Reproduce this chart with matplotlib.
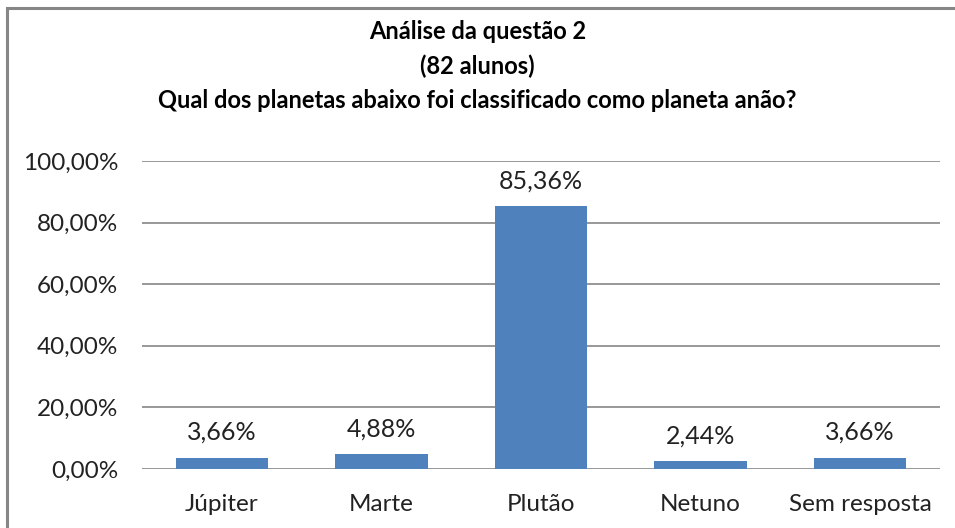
import matplotlib
matplotlib.use('Agg')
import matplotlib.pyplot as plt
from matplotlib.patches import Rectangle
from matplotlib.ticker import FuncFormatter

categories = ['Júpiter', 'Marte', 'Plutão', 'Netuno', 'Sem resposta']
values = [3.66, 4.88, 85.36, 2.44, 3.66]
yticks = [0, 20, 40, 60, 80, 100]
title = 'Análise da questão 2\n(82 alunos)\nQual dos planetas abaixo foi classificado como planeta anão?'

plt.rcParams['font.family'] = ['Lato', 'DejaVu Sans']

W, H = 955, 528
fig = plt.figure(figsize=(W/100, H/100), dpi=100)
ax = fig.add_axes([142/W, 1-469/H, (940-142)/W, (469-161)/H])

x = range(len(categories))
ax.bar(x, values, width=0.58, color='#4F81BD', zorder=3)
for xi, v in zip(x, values):
    ax.annotate(('%.2f%%' % v).replace('.', ','), (xi, v), xytext=(0, 10),
                textcoords='offset points', ha='center', va='bottom',
                fontsize=18, color='#222222')

ax.set_xlim(-0.5, len(categories) - 0.5)
ax.set_ylim(0, 100)
ax.set_yticks(yticks)
ax.yaxis.set_major_formatter(FuncFormatter(lambda v, p: ('%.2f%%' % v).replace('.', ',')))
ax.set_xticks(list(x))
ax.set_xticklabels(categories)
ax.tick_params(axis='both', length=0, labelsize=17.5, colors='#222222')
ax.tick_params(axis='y', pad=17)
ax.tick_params(axis='x', pad=18)
ax.grid(axis='y', color='#868686', linewidth=1.2, zorder=0)
for s in ax.spines.values():
    s.set_visible(False)

fig.text(0.5, 1-20/H, title, ha='center', va='top', fontsize=17, fontweight='bold',
         linespacing=1.58, color='#000000')

fig.add_artist(Rectangle((7/W, -0.1), 1.2, 1-8/H+0.1, transform=fig.transFigure,
                         fill=False, edgecolor='#868686', linewidth=2.2))

fig.savefig('out.png', dpi=100)
